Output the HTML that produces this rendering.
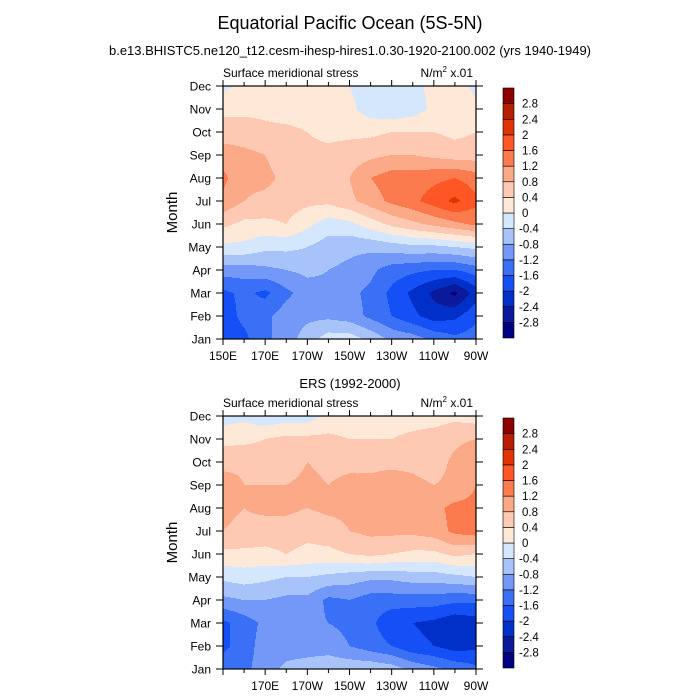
<!DOCTYPE html>
<html><head><meta charset="utf-8"><style>
body{margin:0;background:#fff;}
svg{display:block;font-family:"Liberation Sans",sans-serif;}
</style></head><body>
<svg id="chart" width="700" height="700" viewBox="0 0 700 700">
<rect width="700" height="700" fill="#fff"/>
<text x="350" y="29" text-anchor="middle" font-size="18">Equatorial Pacific Ocean (5S-5N)</text>
<text x="350" y="55" text-anchor="middle" font-size="13">b.e13.BHISTC5.ne120_t12.cesm-ihesp-hires1.0.30-1920-2100.002 (yrs 1940-1949)</text>
<text x="350" y="388" text-anchor="middle" font-size="13">ERS (1992-2000)</text>
<g id="p1"></g><g id="p2"></g>
</svg>
<script>
const months=["Jan","Feb","Mar","Apr","May","Jun","Jul","Aug","Sep","Oct","Nov","Dec"];
const lons=[150,160,170,180,190,200,210,220,230,240,250,260,270];
const levels=[-2.8,-2.4,-2,-1.6,-1.2,-0.8,-0.4,0,0.4,0.8,1.2,1.6,2,2.4,2.8];
const levelLabels=["-2.8","-2.4","-2","-1.6","-1.2","-0.8","-0.4","0","0.4","0.8","1.2","1.6","2","2.4","2.8"];
const xTickLons=[150,170,190,210,230,250,270];
const xTickLabelsTop=["150E","170E","170W","150W","130W","110W","90W"];
const xTickLabelsBottom=["","170E","170W","150W","130W","110W","90W"];
const colors=["#000080","#0a1a9a","#0030c8","#1450f5","#3a70f5","#7498f8","#a8c2fa","#d5e7fc","#fee8d8","#fdc9b3","#fba987","#fb7b4e","#fe5625","#e23300","#b81e00","#8c0000"];
const modelData=[
[-1.8,-1.7,-1.3,-1.0,-0.6,-0.2,-0.2,-0.5,-0.9,-1.0,-1.3,-1.5,-1.4],
[-1.8,-1.5,-1.3,-1.0,-0.9,-0.9,-1.0,-1.3,-1.6,-1.9,-2.2,-2.1,-1.7],
[-1.7,-1.5,-1.7,-1.3,-1.0,-0.9,-1.1,-1.3,-1.7,-2.1,-2.5,-2.9,-2.2],
[-1.0,-1.0,-0.9,-0.8,-0.7,-0.8,-0.9,-1.1,-1.4,-1.5,-1.6,-1.6,-1.4],
[-0.1,-0.1,-0.3,-0.3,-0.4,-0.6,-0.7,-0.7,-0.6,-0.5,-0.5,-0.4,-0.3],
[0.5,0.3,0.3,0.4,0.1,-0.2,-0.1,0.2,0.5,0.7,0.9,1.1,1.3],
[1.1,0.8,0.7,0.6,0.5,0.5,0.7,1.0,1.3,1.5,1.8,2.1,1.7],
[1.3,0.9,0.9,0.7,0.6,0.6,0.8,1.2,1.4,1.4,1.5,1.6,1.4],
[1.0,0.9,0.8,0.6,0.5,0.5,0.6,0.7,0.8,0.8,0.7,0.6,0.6],
[0.6,0.6,0.5,0.5,0.4,0.3,0.3,0.3,0.4,0.4,0.4,0.3,0.4],
[0.3,0.3,0.3,0.2,0.2,0.2,0.1,-0.2,-0.3,-0.2,0.1,0.2,0.1],
[-0.1,0.1,0.2,0.2,0.2,0.2,0.0,-0.2,-0.2,-0.1,0.1,0.2,-0.1]];
const ersData=[
[-1.4,-1.3,-1.0,-0.7,-0.6,-0.5,-0.5,-0.5,-0.6,-0.9,-1.1,-1.3,-1.5],
[-1.7,-1.4,-1.0,-1.0,-1.0,-1.0,-1.2,-1.4,-1.6,-1.9,-2.0,-2.2,-2.1],
[-1.7,-1.4,-1.1,-1.2,-1.1,-1.2,-1.3,-1.5,-1.9,-2.0,-2.1,-2.3,-2.2],
[-0.9,-0.8,-0.8,-0.9,-0.9,-1.3,-1.2,-1.4,-1.4,-1.4,-1.4,-1.5,-1.5],
[-0.3,-0.2,-0.3,-0.4,-0.4,-0.5,-0.6,-0.7,-0.7,-0.6,-0.6,-0.5,-0.4],
[0.3,0.3,0.3,0.4,0.3,0.3,0.4,0.5,0.4,0.3,0.3,0.5,0.4],
[0.8,0.7,0.6,0.6,0.5,0.6,0.8,0.9,0.9,0.9,1.0,1.3,1.4],
[0.9,0.8,0.9,0.9,0.8,0.9,0.9,0.9,0.9,0.9,1.1,1.3,1.3],
[1.1,0.8,0.8,0.8,0.9,0.8,0.9,0.9,1.0,0.9,0.8,0.9,1.2],
[0.6,0.7,0.6,0.6,0.8,0.7,0.7,0.7,0.7,0.7,0.6,0.9,1.2],
[0.3,0.3,0.4,0.5,0.5,0.5,0.4,0.4,0.4,0.5,0.6,0.7,0.8],
[-0.2,-0.1,-0.3,-0.2,-0.2,0.1,0.1,0.2,0.2,0.2,0.2,0.3,0.2]];

const NS="http://www.w3.org/2000/svg";
function mk(tag,attrs,parent){const e=document.createElementNS(NS,tag);for(const k in attrs)e.setAttribute(k,attrs[k]);parent.appendChild(e);return e;}
function colorIdx(v){let i=0;while(i<levels.length&&v>=levels[i])i++;return i;}

function drawPanel(g,data,top,xLabels){
  const L=223,R=476,T=top,B=top+253;
  const xs=lon=>L+(lon-150)/120*(R-L);
  const ys=m=>B-m/11*(B-T);
  const field=mk("g",{},g);
  
  
  const nx=lons.length,ny=months.length;
  function val(px,py){
    const fx=(px-L)/(R-L)*(nx-1), fy=(B-py)/(B-T)*(ny-1);
    let i=Math.min(Math.max(Math.floor(fx),0),nx-2), j=Math.min(Math.max(Math.floor(fy),0),ny-2);
    const tx=fx-i, ty=fy-j;
    return (data[j][i]*(1-tx)+data[j][i+1]*tx)*(1-ty)+(data[j+1][i]*(1-tx)+data[j+1][i+1]*tx)*ty;
  }
  for(let py=T;py<B;py++){
    let start=L,cur=colorIdx(val(L+0.5,py+0.5));
    for(let px=L+1;px<=R;px++){
      const c=px<R?colorIdx(val(px+0.5,py+0.5)):-1;
      if(c!==cur){
        const r=mk("rect",{x:start,y:py,width:px-start,height:1.05,fill:colors[cur]},field);
        
        
        start=px;cur=c;
      }
    }
  }
  const frame=mk("rect",{x:L,y:T,width:R-L,height:B-T,fill:"none",stroke:"#000","stroke-width":1.2},g);
  
  
  months.forEach((m,k)=>{
    const y=ys(k);
    mk("line",{x1:L-7,x2:L,y1:y,y2:y,stroke:"#000"},g);
    mk("line",{x1:R,x2:R+7,y1:y,y2:y,stroke:"#000"},g);
    const t=mk("text",{x:L-12,y:y+4.5,"text-anchor":"end","font-size":12},g);
    t.textContent=m;
    
    
  });
  for(let lon=150;lon<=270;lon+=10){
    const x=xs(lon),maj=(lon-150)%20===0,len=maj?6:4;
    mk("line",{x1:x,x2:x,y1:B,y2:B+len,stroke:"#000"},g);
    mk("line",{x1:x,x2:x,y1:T,y2:T-len,stroke:"#000"},g);
  }
  xTickLons.forEach((lon,k)=>{
    if(!xLabels[k])return;
    const t=mk("text",{x:xs(lon),y:B+21,"text-anchor":"middle","font-size":12},g);
    t.textContent=xLabels[k];
    
    
  });
  const yt=mk("text",{x:0,y:0,"text-anchor":"middle","font-size":15,transform:`translate(177,${(T+B)/2}) rotate(-90)`},g);
  yt.textContent="Month";
  
  
  const lt=mk("text",{x:L,y:T-9,"font-size":12},g);
  lt.textContent="Surface meridional stress";
  
  
  const ut=mk("text",{x:R-3,y:T-9,"text-anchor":"end","font-size":12},g);
  ut.innerHTML='N/m<tspan font-size="8" dy="-5">2</tspan><tspan dy="5"> x.01</tspan>';
  
  
  const cx=503,cw=11,cT=T+2,cH=250,n=colors.length,bh=cH/n;
  const cb=mk("g",{},g);
  
  
  colors.forEach((c,k)=>{
    const r=mk("rect",{x:cx,y:cT+cH-(k+1)*bh,width:cw,height:bh,fill:c,stroke:"#000","stroke-width":0.6},cb);
    
    
  });
  levelLabels.forEach((lab,k)=>{
    const t=mk("text",{x:lab[0]==="-"?519:522,y:cT+cH-(k+1)*bh+4,"font-size":11.5},cb);
    t.textContent=lab;
    
    
  });
}
drawPanel(document.getElementById("p1"),modelData,86,xTickLabelsTop);
drawPanel(document.getElementById("p2"),ersData,416,xTickLabelsBottom);
</script>
</body></html>
